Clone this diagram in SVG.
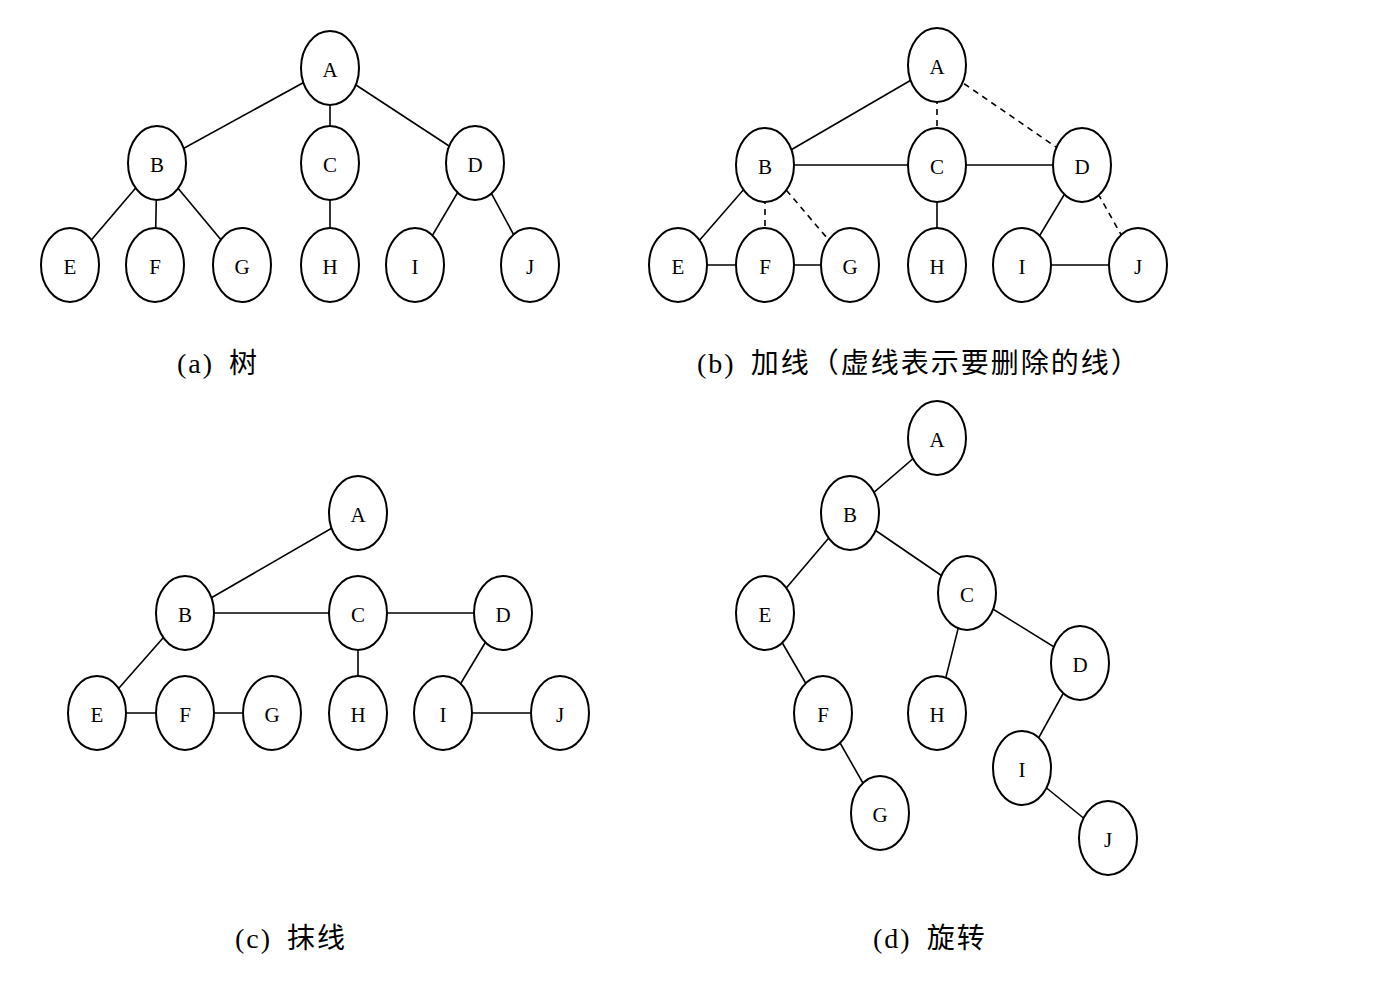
<svg xmlns="http://www.w3.org/2000/svg" width="1374" height="996" viewBox="0 0 1374 996">
<style>
.n ellipse{fill:#fff;stroke:#000;stroke-width:2}
.n text{font-family:"Liberation Serif",serif;font-size:21px;text-anchor:middle;dominant-baseline:central}
.e line{stroke:#000;stroke-width:1.6}
.d{stroke-dasharray:6 5}
.cap{font-family:"Liberation Serif","Noto Sans CJK SC",serif;font-size:28px;letter-spacing:2px;word-spacing:6px}
</style>
<rect width="1374" height="996" fill="#fff"/>
<g id="connectors" class="e">
<line x1="330" y1="68" x2="157" y2="163"/><line x1="330" y1="68" x2="330" y2="163"/><line x1="330" y1="68" x2="475" y2="163"/>
<line x1="157" y1="163" x2="70" y2="265"/><line x1="157" y1="163" x2="155" y2="265"/><line x1="157" y1="163" x2="242" y2="265"/>
<line x1="330" y1="163" x2="330" y2="265"/><line x1="475" y1="163" x2="415" y2="265"/><line x1="475" y1="163" x2="530" y2="265"/>
<line x1="937" y1="65" x2="765" y2="165"/><line class="d" x1="937" y1="65" x2="937" y2="165"/><line class="d" x1="937" y1="65" x2="1082" y2="165"/>
<line x1="765" y1="165" x2="937" y2="165"/><line x1="937" y1="165" x2="1082" y2="165"/>
<line x1="765" y1="165" x2="678" y2="265"/><line class="d" x1="765" y1="165" x2="765" y2="265"/><line class="d" x1="765" y1="165" x2="850" y2="265"/>
<line x1="937" y1="165" x2="937" y2="265"/><line x1="1082" y1="165" x2="1022" y2="265"/><line class="d" x1="1082" y1="165" x2="1138" y2="265"/>
<line x1="678" y1="265" x2="850" y2="265"/><line x1="1022" y1="265" x2="1138" y2="265"/>
<line x1="358" y1="513" x2="185" y2="613"/><line x1="185" y1="613" x2="503" y2="613"/>
<line x1="185" y1="613" x2="97" y2="713"/><line x1="97" y1="713" x2="272" y2="713"/>
<line x1="358" y1="613" x2="358" y2="713"/><line x1="503" y1="613" x2="443" y2="713"/><line x1="443" y1="713" x2="560" y2="713"/>
<line x1="937" y1="438" x2="850" y2="513"/><line x1="850" y1="513" x2="765" y2="613"/><line x1="850" y1="513" x2="967" y2="593"/>
<line x1="765" y1="613" x2="823" y2="713"/><line x1="823" y1="713" x2="880" y2="813"/>
<line x1="967" y1="593" x2="937" y2="713"/><line x1="967" y1="593" x2="1080" y2="663"/>
<line x1="1080" y1="663" x2="1022" y2="768"/><line x1="1022" y1="768" x2="1108" y2="838"/>
</g>
<g class="n">
<g id="a-A"><ellipse cx="330" cy="68" rx="29" ry="37"/><text x="330" y="70">A</text></g>
<g id="a-B"><ellipse cx="157" cy="163" rx="29" ry="37"/><text x="157" y="165">B</text></g>
<g id="a-C"><ellipse cx="330" cy="163" rx="29" ry="37"/><text x="330" y="165">C</text></g>
<g id="a-D"><ellipse cx="475" cy="163" rx="29" ry="37"/><text x="475" y="165">D</text></g>
<g id="a-E"><ellipse cx="70" cy="265" rx="29" ry="37"/><text x="70" y="267">E</text></g>
<g id="a-F"><ellipse cx="155" cy="265" rx="29" ry="37"/><text x="155" y="267">F</text></g>
<g id="a-G"><ellipse cx="242" cy="265" rx="29" ry="37"/><text x="242" y="267">G</text></g>
<g id="a-H"><ellipse cx="330" cy="265" rx="29" ry="37"/><text x="330" y="267">H</text></g>
<g id="a-I"><ellipse cx="415" cy="265" rx="29" ry="37"/><text x="415" y="267">I</text></g>
<g id="a-J"><ellipse cx="530" cy="265" rx="29" ry="37"/><text x="530" y="267">J</text></g>
<g id="b-A"><ellipse cx="937" cy="65" rx="29" ry="37"/><text x="937" y="67">A</text></g>
<g id="b-B"><ellipse cx="765" cy="165" rx="29" ry="37"/><text x="765" y="167">B</text></g>
<g id="b-C"><ellipse cx="937" cy="165" rx="29" ry="37"/><text x="937" y="167">C</text></g>
<g id="b-D"><ellipse cx="1082" cy="165" rx="29" ry="37"/><text x="1082" y="167">D</text></g>
<g id="b-E"><ellipse cx="678" cy="265" rx="29" ry="37"/><text x="678" y="267">E</text></g>
<g id="b-F"><ellipse cx="765" cy="265" rx="29" ry="37"/><text x="765" y="267">F</text></g>
<g id="b-G"><ellipse cx="850" cy="265" rx="29" ry="37"/><text x="850" y="267">G</text></g>
<g id="b-H"><ellipse cx="937" cy="265" rx="29" ry="37"/><text x="937" y="267">H</text></g>
<g id="b-I"><ellipse cx="1022" cy="265" rx="29" ry="37"/><text x="1022" y="267">I</text></g>
<g id="b-J"><ellipse cx="1138" cy="265" rx="29" ry="37"/><text x="1138" y="267">J</text></g>
<g id="c-A"><ellipse cx="358" cy="513" rx="29" ry="37"/><text x="358" y="515">A</text></g>
<g id="c-B"><ellipse cx="185" cy="613" rx="29" ry="37"/><text x="185" y="615">B</text></g>
<g id="c-C"><ellipse cx="358" cy="613" rx="29" ry="37"/><text x="358" y="615">C</text></g>
<g id="c-D"><ellipse cx="503" cy="613" rx="29" ry="37"/><text x="503" y="615">D</text></g>
<g id="c-E"><ellipse cx="97" cy="713" rx="29" ry="37"/><text x="97" y="715">E</text></g>
<g id="c-F"><ellipse cx="185" cy="713" rx="29" ry="37"/><text x="185" y="715">F</text></g>
<g id="c-G"><ellipse cx="272" cy="713" rx="29" ry="37"/><text x="272" y="715">G</text></g>
<g id="c-H"><ellipse cx="358" cy="713" rx="29" ry="37"/><text x="358" y="715">H</text></g>
<g id="c-I"><ellipse cx="443" cy="713" rx="29" ry="37"/><text x="443" y="715">I</text></g>
<g id="c-J"><ellipse cx="560" cy="713" rx="29" ry="37"/><text x="560" y="715">J</text></g>
<g id="d-A"><ellipse cx="937" cy="438" rx="29" ry="37"/><text x="937" y="440">A</text></g>
<g id="d-B"><ellipse cx="850" cy="513" rx="29" ry="37"/><text x="850" y="515">B</text></g>
<g id="d-C"><ellipse cx="967" cy="593" rx="29" ry="37"/><text x="967" y="595">C</text></g>
<g id="d-D"><ellipse cx="1080" cy="663" rx="29" ry="37"/><text x="1080" y="665">D</text></g>
<g id="d-E"><ellipse cx="765" cy="613" rx="29" ry="37"/><text x="765" y="615">E</text></g>
<g id="d-F"><ellipse cx="823" cy="713" rx="29" ry="37"/><text x="823" y="715">F</text></g>
<g id="d-G"><ellipse cx="880" cy="813" rx="29" ry="37"/><text x="880" y="815">G</text></g>
<g id="d-H"><ellipse cx="937" cy="713" rx="29" ry="37"/><text x="937" y="715">H</text></g>
<g id="d-I"><ellipse cx="1022" cy="768" rx="29" ry="37"/><text x="1022" y="770">I</text></g>
<g id="d-J"><ellipse cx="1108" cy="838" rx="29" ry="37"/><text x="1108" y="840">J</text></g>
</g>
<text class="cap" x="177" y="373">(a) 树</text>
<text class="cap" x="697" y="373">(b) 加线（虚线表示要删除的线）</text>
<text class="cap" x="235" y="948">(c) 抹线</text>
<text class="cap" x="873" y="948">(d) 旋转</text>
</svg>
